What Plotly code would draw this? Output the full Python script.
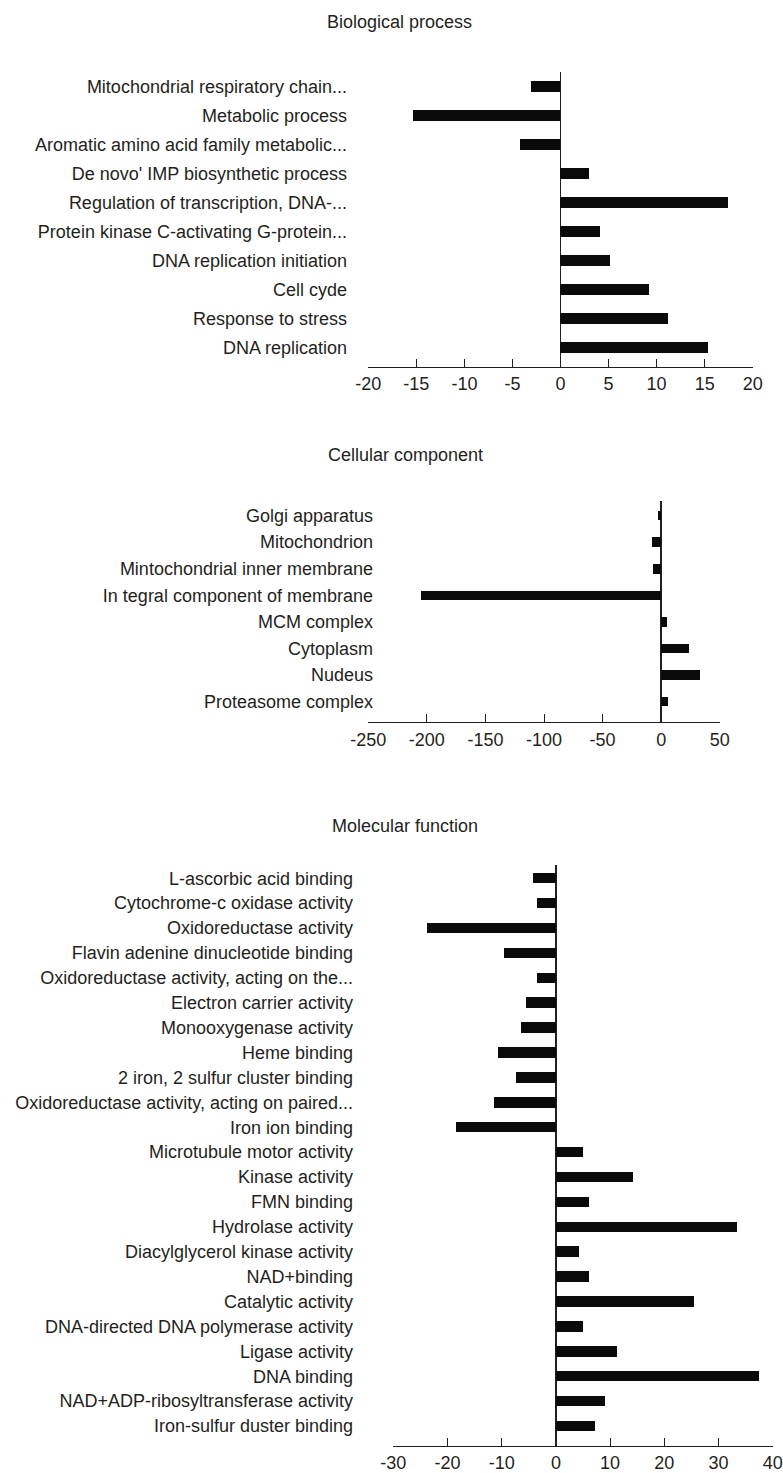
import plotly.graph_objects as go

W, H = 783, 1473

bp_terms = [
    "Mitochondrial respiratory chain...",
    "Metabolic process",
    "Aromatic amino acid family metabolic...",
    "De novo' IMP biosynthetic process",
    "Regulation of transcription, DNA-...",
    "Protein kinase C-activating G-protein...",
    "DNA replication initiation",
    "Cell cyde",
    "Response to stress",
    "DNA replication",
]
bp_values = [-3.1, -15.4, -4.2, 3.0, 17.4, 4.1, 5.2, 9.2, 11.2, 15.4]
bp_ticks = [-20, -15, -10, -5, 0, 5, 10, 15, 20]

cc_terms = [
    "Golgi apparatus",
    "Mitochondrion",
    "Mintochondrial inner membrane",
    "In tegral component of membrane",
    "MCM complex",
    "Cytoplasm",
    "Nudeus",
    "Proteasome complex",
]
cc_values = [-3, -8, -7, -205, 5, 24, 33, 6]
cc_ticks = [-250, -200, -150, -100, -50, 0, 50]

mf_terms = [
    "L-ascorbic acid binding",
    "Cytochrome-c oxidase activity",
    "Oxidoreductase activity",
    "Flavin adenine dinucleotide binding",
    "Oxidoreductase activity, acting on the...",
    "Electron carrier activity",
    "Monooxygenase activity",
    "Heme binding",
    "2 iron, 2 sulfur cluster binding",
    "Oxidoreductase activity, acting on paired...",
    "Iron ion binding",
    "Microtubule motor activity",
    "Kinase activity",
    "FMN binding",
    "Hydrolase activity",
    "Diacylglycerol kinase activity",
    "NAD+binding",
    "Catalytic activity",
    "DNA-directed DNA polymerase activity",
    "Ligase activity",
    "DNA binding",
    "NAD+ADP-ribosyltransferase activity",
    "Iron-sulfur duster binding",
]
mf_values = [-4.3, -3.5, -23.7, -9.5, -3.5, -5.5, -6.5, -10.6, -7.4, -11.4, -18.5,
             5.0, 14.3, 6.1, 33.4, 4.2, 6.1, 25.5, 5.0, 11.2, 37.5, 9.1, 7.2]
mf_ticks = [-30, -20, -10, 0, 10, 20, 30, 40]

titles = ["Biological process", "Cellular component", "Molecular function"]

FONT = "Liberation Sans, Arial, Helvetica, sans-serif"
TXT = "#231f20"
BAR = "#0a0a0a"
FS = 18

def px_x(p):
    return p / W

def px_y(p):
    return 1 - p / H

panels = [
    # terms, values, ticks, x-domain px, y-domain px (top,bottom), y range, bar width, label right px
    (bp_terms, bp_values, bp_ticks, (368.3, 752.7), (72, 366.7), [9.67, -0.51], 0.38, 347),
    (cc_terms, cc_values, cc_ticks, (368.3, 719.7), (501, 722.3), [7.78, -0.55], 0.36, 373),
    (mf_terms, mf_values, mf_ticks, (393.3, 772.7), (865, 1445.7), [22.79, -0.53], 0.42, 353),
]
title_pos = [(399, 22), (405, 455), (405, 826)]

fig = go.Figure()
layout = {}
for i, (terms, vals, ticks, xd, yd, yr, bw, lab_r) in enumerate(panels):
    n = "" if i == 0 else str(i + 1)
    fig.add_trace(go.Bar(
        x=vals, y=terms, orientation="h",
        xaxis="x" + n, yaxis="y" + n,
        marker=dict(color=BAR, line=dict(width=0)),
        width=bw, showlegend=False,
    ))
    layout["xaxis" + n] = dict(
        domain=[px_x(xd[0]), px_x(xd[1])],
        range=[ticks[0], ticks[-1]],
        anchor="y" + n,
        tickmode="array", tickvals=ticks, ticktext=[str(t) for t in ticks],
        ticks="inside", ticklen=8, tickwidth=1, tickcolor=TXT,
        showline=True, linecolor=TXT, linewidth=1,
        showgrid=False,
        zeroline=True, zerolinecolor=TXT, zerolinewidth=1.5,
        tickfont=dict(family=FONT, size=FS, color=TXT),
        ticklabelstandoff=1,
        automargin=False,
        fixedrange=True,
    )
    layout["yaxis" + n] = dict(
        domain=[px_y(yd[1]), px_y(yd[0])],
        range=yr,
        type="category",
        categoryorder="array", categoryarray=terms,
        anchor="free", position=px_x(lab_r),
        showline=False, showgrid=False, zeroline=False, ticks="",
        tickfont=dict(family=FONT, size=FS, color=TXT),
        automargin=False,
        fixedrange=True,
    )

annotations = [
    dict(text=t, x=px_x(tx), y=px_y(ty), xref="paper", yref="paper",
         xanchor="center", yanchor="middle", showarrow=False,
         font=dict(family=FONT, size=FS, color=TXT))
    for t, (tx, ty) in zip(titles, title_pos)
]

fig.update_layout(
    template="none",
    width=W, height=H,
    margin=dict(l=0, r=0, t=0, b=0, autoexpand=False),
    paper_bgcolor="white", plot_bgcolor="white",
    annotations=annotations,
    bargap=0,
    hovermode=False,
    **layout,
)

fig.write_html(
    "out.html",
    config={"displayModeBar": False, "staticPlot": True},
    post_script="document.body.style.margin='0px';document.body.style.overflow='hidden';",
)
